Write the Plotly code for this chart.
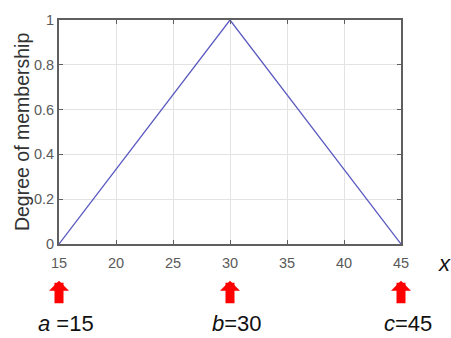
import plotly.graph_objects as go

x_vals = [15, 30, 45]
y_vals = [0, 1, 0]
x_ticks = [15, 20, 25, 30, 35, 40, 45]
y_ticks = [0, 0.2, 0.4, 0.6, 0.8, 1]
y_tick_text = ["0", "0.2", "0.4", "0.6", "0.8", "1"]
param_vals = [15, 30, 45]
param_labels = ["<i>a</i> =15", "<i>b</i>=30", "<i>c</i>=45"]
y_title = "Degree of membership"

FONT = "Liberation Sans, Arial"

fig = go.Figure()
fig.add_trace(go.Scatter(x=x_vals, y=y_vals, mode="lines",
                         line=dict(color="#5a5ac0", width=1.3), showlegend=False))

axis_common = dict(showgrid=True, gridcolor="#e3e3e3", gridwidth=1,
                   showline=True, linecolor="#5f5f5f", linewidth=2, mirror="ticks",
                   ticks="inside", ticklen=4, tickcolor="#5f5f5f", zeroline=False,
                   tickfont=dict(family=FONT, size=14.5, color="#5a5a5a"))

fig.update_xaxes(range=[15, 45], tickvals=x_ticks, ticklabelstandoff=5, **axis_common)
fig.update_yaxes(range=[0, 1], tickvals=y_ticks, ticktext=y_tick_text, **axis_common)

fig.add_annotation(x=-0.108, y=0.5, xref="paper", yref="paper", text=y_title,
                   textangle=-90, showarrow=False, xanchor="center", yanchor="middle",
                   font=dict(family=FONT, size=19.5, color="#333333"))

for v, lab in zip(param_vals, param_labels):
    fig.add_annotation(x=v, y=-0.164, xref="x", yref="paper", text="",
                       showarrow=True, arrowhead=1, arrowwidth=9, arrowsize=0.37,
                       arrowcolor="#ff0000", ax=0, ay=24)
    fig.add_annotation(x=v, y=-0.356, xref="x", yref="paper", text=lab,
                       showarrow=False, xshift=7, yanchor="middle",
                       font=dict(family=FONT, size=22, color="#111111"))

fig.add_annotation(x=1.126, y=-0.088, xref="paper", yref="paper", text="<i>x</i>",
                   showarrow=False, xanchor="center", yanchor="middle",
                   font=dict(family=FONT, size=22, color="#111111"))

fig.update_layout(width=451, height=338, margin=dict(l=59, r=50, t=18, b=94),
                  plot_bgcolor="white", paper_bgcolor="white")

fig.write_html("out.html")
